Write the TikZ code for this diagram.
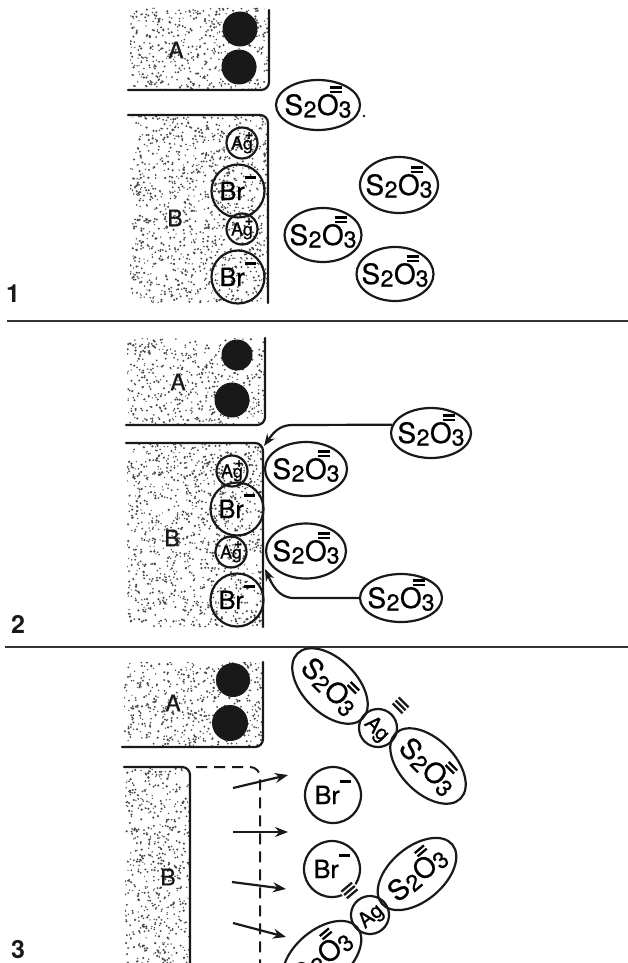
\documentclass[tikz,border=0pt]{standalone}
\usepackage{fontspec}
\setmainfont{TeX Gyre Heros}
\newfontfamily\chemfont{TeX Gyre Heros}[FakeBold=0.7]
\usetikzlibrary{arrows.meta,shapes.geometric}

% chemical labels
\newcommand\subn[1]{\raisebox{-2.5pt}{\fontsize{23}{23}\selectfont #1}}
\newcommand\dbar{\vbox{\hrule width 12pt height 2.3pt\vskip 2pt\hrule width 12pt height 2.3pt}}
\newcommand\tbar{\vbox{\hrule width 14pt height 2.3pt\vskip 2pt\hrule width 14pt height 2.3pt\vskip 2pt\hrule width 14pt height 2.3pt}}
\newcommand\thio{{\chemfont\fontsize{28}{28}\selectfont S\kern0.5pt\subn{2}\kern0.5pt O\rlap{\hspace{-9pt}\raisebox{22pt}{\dbar}}\subn{3}}}
\newcommand\brion{{\chemfont\fontsize{25}{25}\selectfont Br\kern0.5pt\raisebox{21.5pt}{\rule{11pt}{2.3pt}}}}
\newcommand\agion{{\chemfont\fontsize{18}{18}\selectfont Ag\rlap{\hspace{-8pt}\raisebox{10.5pt}{\fontsize{14}{14}\selectfont\bfseries +}}}}
\newcommand\agbare{{\chemfont\fontsize{21}{21}\selectfont Ag}}
\newcommand\ctrtxt[2]{\makebox[0pt]{\raisebox{-#1}[0pt][0pt]{#2}}}
\newcommand\ThioI{\ctrtxt{10pt}{\thio}}
\newcommand\BrI{\ctrtxt{9pt}{\brion}}
\newcommand\AgI{\ctrtxt{6.5pt}{\agion}}
\newcommand\AgII{\ctrtxt{7.6pt}{\agbare}}

% random stipple inside a rectangle: x0 y0 x1 y1 count
\newcommand\stipple[5]{%
  \foreach \k in {1,...,#5}{%
    \pgfmathsetmacro\sx{#1+rnd*(#3-#1)}%
    \pgfmathsetmacro\sy{#2+rnd*(#4-#2)}%
    \pgfmathsetmacro\sr{0.65+0.6*rnd}%
    \fill[dotc] (\sx,\sy) circle[radius=\sr pt];}}

\colorlet{ink}{black!90}
\colorlet{dotc}{black!72}

\tikzset{
  outl/.style={draw=ink, line width=2.2pt, line cap=round, line join=round, rounded corners=8pt},
  thion/.style={ellipse, draw=ink, line width=2.2pt, inner sep=0pt, minimum width=80pt, minimum height=52pt},
  thioc/.style={ellipse, draw=ink, line width=2.2pt, inner sep=0pt, minimum width=92pt, minimum height=54pt},
  brn/.style={circle, draw=ink, line width=2.2pt, inner sep=0pt, minimum size=53pt},
  agn/.style={circle, draw=ink, line width=2.2pt, inner sep=0pt, minimum size=31pt},
  agc/.style={circle, draw=ink, line width=2.2pt, inner sep=0pt, minimum size=38pt},
  blob/.style={circle, fill=ink, inner sep=0pt},
  lbl/.style={inner sep=0pt, text=ink, font=\chemfont\fontsize{23}{23}\selectfont},
  num/.style={inner sep=0pt, text=ink, font=\fontsize{25}{25}\selectfont\bfseries},
  sepline/.style={draw=black!80, line width=2.4pt},
  mv/.style={draw=ink, line width=2.2pt, -{Stealth[length=13pt,width=10pt]}},
  flow/.style={draw=ink, line width=2.2pt, -{Stealth[length=12pt,width=9pt]}},
  dashln/.style={draw=ink, line width=2pt, dash pattern=on 11pt off 7pt, rounded corners=10pt},
  bars/.style={inner sep=1.5pt, text=ink},
}

\begin{document}
\begin{tikzpicture}[x=1pt,y=1pt]
\useasboundingbox (0,0) rectangle (628,-963);
\fill[white] (0,0) rectangle (628,-963);
\clip (0,0) rectangle (628,-963);
\pgfmathsetseed{4242}

% ---------------- panel 1 ----------------
\begin{scope}
  \clip[rounded corners=8pt] (130,-8) rectangle (269,-90);
  \stipple{130}{-8}{269}{-90}{510}
\end{scope}
\begin{scope}
  \clip[rounded corners=8pt] (130,-115) rectangle (268,-303);
  \stipple{130}{-115}{268}{-303}{1180}
\end{scope}
\draw[outl] (269,-10) -- (269,-90) -- (128,-90);
\draw[outl] (128,-115) -- (268,-115) -- (268,-303);
\node[blob, minimum size=35pt] (p1k1) at (240,-29) {};
\node[blob, minimum size=35pt] (p1k2) at (239,-67) {};
\node[lbl] (p1A) at (176,-50) {A};
\node[lbl] (p1B) at (175,-218) {B};
\node[agn] (p1g1) at (242,-143) {\AgI};
\node[brn] (p1r1) at (238,-191) {\BrI};
\node[agn] (p1g2) at (242,-229) {\AgI};
\node[brn] (p1r2) at (238,-277) {\BrI};
\node[thion, minimum width=84pt, minimum height=50pt] (p1s1) at (318,-105) {\ThioI};
\node[thion, minimum width=78pt, minimum height=56pt] (p1s2) at (399,-185) {\ThioI};
\node[thion, minimum width=77pt, minimum height=54pt] (p1s3) at (323,-235) {\ThioI};
\node[thion, minimum width=77pt, minimum height=54pt] (p1s4) at (395,-274) {\ThioI};
\fill[ink] (364,-116) circle[radius=1.4pt];
\node[num] (n1) at (13,-294) {1};
\draw[sepline] (7,-321) -- (628,-321);

% ---------------- panel 2 ----------------
\begin{scope}
  \clip[rounded corners=8pt] (127,-338) rectangle (265,-425);
  \stipple{127}{-338}{265}{-425}{545}
\end{scope}
\begin{scope}
  \clip[rounded corners=8pt] (127,-443) rectangle (263,-627);
  \stipple{127}{-443}{263}{-627}{1140}
\end{scope}
\draw[outl] (265,-338) -- (265,-425) -- (126,-425);
\draw[outl] (126,-443) -- (263,-443) -- (263,-627);
\node[blob, minimum size=31pt] (p2k1) at (237,-355) {};
\node[blob, minimum size=35pt] (p2k2) at (232,-400) {};
\node[lbl] (p2A) at (178,-382) {A};
\node[lbl] (p2B) at (172,-538) {B};
\node[agn] (p2g1) at (232,-471) {\AgI};
\node[brn] (p2r1) at (237,-509) {\BrI};
\node[agn] (p2g2) at (231,-552) {\AgI};
\node[brn] (p2r2) at (237,-600) {\BrI};
\node[thion, minimum width=82pt, minimum height=54pt] (p2n1) at (306,-469) {\ThioI};
\node[thion, minimum width=80pt, minimum height=55pt] (p2n2) at (306,-551) {\ThioI};
\node[thion, minimum width=80pt, minimum height=50pt] (p2f1) at (431,-433) {\ThioI};
\node[thion, minimum width=82pt, minimum height=48pt] (p2f2) at (401,-598) {\ThioI};
\coordinate (p2e1) at (264,-446);
\coordinate (p2e2) at (265,-569);
\draw[flow] (p2f1.168) -- (292,-425) to[out=180,in=55] (p2e1);
\draw[flow] (p2f2.west) -- (294,-598) to[out=180,in=-65] (p2e2);
\node[num] (n2) at (18,-624) {2};
\draw[sepline] (5,-647) -- (628,-647);

% ---------------- panel 3 ----------------
\begin{scope}
  \clip[rounded corners=8pt] (124,-662) rectangle (263,-747);
  \stipple{124}{-662}{263}{-747}{540}
\end{scope}
\begin{scope}
  \clip[rounded corners=8pt] (125,-767) rectangle (190,-970);
  \stipple{125}{-767}{190}{-970}{600}
\end{scope}
\draw[outl] (263,-662) -- (263,-747) -- (122,-747);
\draw[outl] (124,-767) -- (190,-767) -- (190,-970);
\node[blob, minimum size=34pt] (p3k1) at (233,-680) {};
\node[blob, minimum size=36pt] (p3k2) at (230,-723) {};
\node[lbl] (p3A) at (173,-703) {A};
\node[lbl] (p3B) at (168,-877) {B};

% former crystal surface
\coordinate (d0) at (196,-767);
\coordinate (d1) at (260,-970);
\draw[dashln] (d0) -| (d1);

% ions leaving the grain
\coordinate (t1) at (233,-788); \coordinate (h1) at (288,-775);
\coordinate (t2) at (233,-832); \coordinate (h2) at (288,-832);
\coordinate (t3) at (232,-882); \coordinate (h3) at (286,-889);
\coordinate (t4) at (233,-923); \coordinate (h4) at (286,-937);
\draw[mv] (t1) -- (h1);
\draw[mv] (t2) -- (h2);
\draw[mv] (t3) -- (h3);
\draw[mv] (t4) -- (h4);

\node[brn, minimum size=56pt] (p3r1) at (333,-795) {\BrI};

% silver thiosulfate complex, upper
\node[thioc, rotate=-45] (c1a) at (330,-686) {\ThioI};
\node[agc, rotate=-45] (c1g) at (378,-728) {\AgII};
\node[thioc, rotate=-45] (c1b) at (428,-766) {\ThioI};
\node[bars, rotate=-45] (c1t) at ([shift={(45:32)}]c1g.center) {\tbar};

% bromide bound to a complex, lower
\node[brn, minimum size=56pt] (c2r) at (332,-869) {\BrI};
\node[agc, rotate=40] (c2g) at (370,-915) {\AgII};
\node[thioc, rotate=40] (c2u) at (417,-874) {\ThioI};
\node[thioc, rotate=40] (c2l) at (322,-957) {\ThioI};
\node[bars, rotate=40, fill=white] (c2t) at ([shift={(130:32)}]c2g.center) {\tbar};

\node[num] (n3) at (18,-950) {3};
\end{tikzpicture}
\end{document}
